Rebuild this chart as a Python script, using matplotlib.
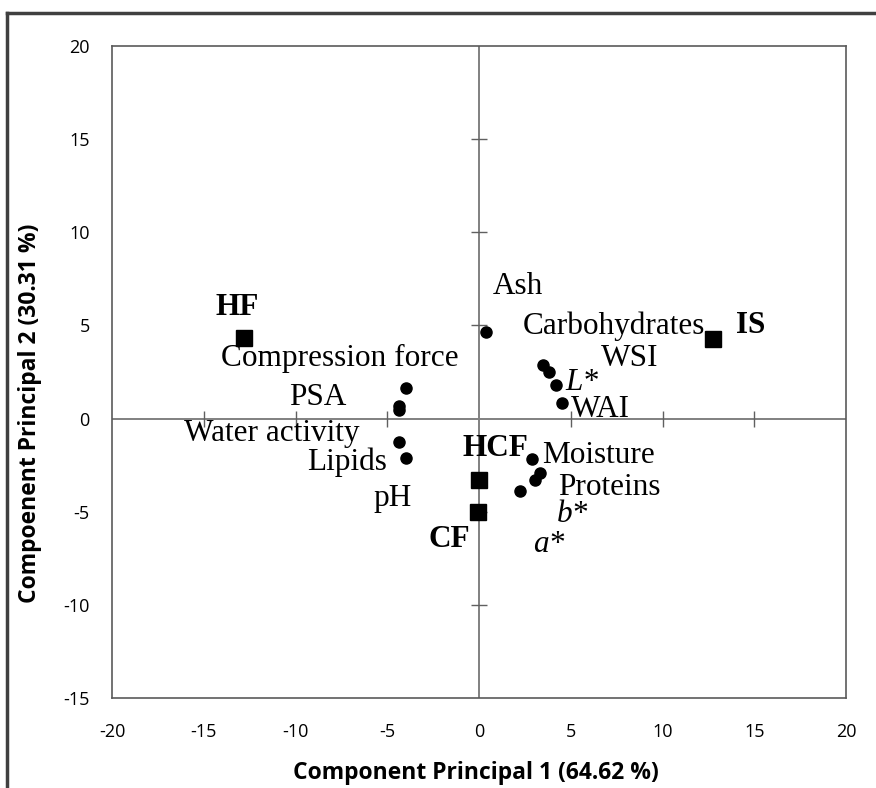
import matplotlib
matplotlib.use('Agg')
import matplotlib.pyplot as plt
from matplotlib.lines import Line2D

plt.rcParams['axes.unicode_minus'] = False

# samples (squares)
sample_names = ['HF', 'IS', 'HCF', 'CF']
sample_x = [-12.8, 12.75, 0.0, -0.05]
sample_y = [4.3, 4.25, -3.3, -5.0]

# variables (dots)
var_x = [0.4, 3.5, 3.8, 4.2, 4.5,
         -4.0, -4.35, -4.35, -4.35, -4.0,
         2.9, 3.3, 3.05, 2.25]
var_y = [4.65, 2.85, 2.5, 1.8, 0.85,
         1.65, 0.7, 0.45, -1.25, -2.1,
         -2.15, -2.9, -3.3, -3.9]

# labels placed like in the original
label_text = ['Ash', 'Carbohydrates', 'WSI', 'L*', 'WAI',
              'Compression force', 'PSA', 'Water activity', 'Lipids', 'pH',
              'Moisture', 'Proteins', 'b*', 'a*']
label_x = [2.1, 7.35, 8.2, 5.6, 6.6, -7.6, -8.8, -11.3, -7.2, -4.7,
           6.5, 7.1, 5.1, 3.8]
label_y = [7.1, 4.95, 3.2, 1.95, 0.5, 3.2, 1.15, -0.8, -2.35, -4.3,
           -2.0, -3.7, -5.15, -6.75]
sample_lx = [-13.2, 14.8, 0.9, -1.6]
sample_ly = [5.95, 5.0, -1.6, -6.5]

xticks = [-20, -15, -10, -5, 0, 5, 10, 15, 20]
yticks = [-15, -10, -5, 0, 5, 10, 15, 20]

fig = plt.figure(figsize=(8.76, 7.88), dpi=100)
ax = fig.add_axes([112 / 876, 90 / 788, 734 / 876, 652 / 788])

ax.set_xlim(-20, 20)
ax.set_ylim(-15, 20)
for s in ax.spines.values():
    s.set_color('#5a5a5a')
    s.set_linewidth(1.2)

ax.axhline(0, color='#808080', lw=1.4, zorder=1)
ax.axvline(0, color='#808080', lw=1.4, zorder=1)
# small cross ticks on the zero axes
inner_x = [t for t in xticks if t not in (-20, 0, 20)]
inner_y = [t for t in yticks if t not in (-15, 0, 20)]
ax.plot(inner_x, [0] * len(inner_x), ls='none', marker='|', ms=11, mew=1.0, color='#606060')
ax.plot([0] * len(inner_y), inner_y, ls='none', marker='_', ms=11, mew=1.0, color='#606060')

ax.plot(var_x, var_y, 'o', color='black', ms=8, zorder=3)
ax.plot(sample_x, sample_y, 's', color='black', ms=12, zorder=3)

for t, x, y in zip(label_text, label_x, label_y):
    ax.text(x, y, t, fontsize=22.5, family='Liberation Serif', ha='center', va='center',
            style='italic' if t.endswith('*') else 'normal')
for t, x, y in zip(sample_names, sample_lx, sample_ly):
    ax.text(x, y, t, fontsize=22.5, family='Liberation Serif', fontweight='bold',
            ha='center', va='center')

ax.set_xticks(xticks)
ax.set_yticks(yticks)
ax.tick_params(length=0, labelsize=13)
for lab in ax.get_xticklabels() + ax.get_yticklabels():
    lab.set_family('Open Sans')
ax.tick_params(axis='y', pad=16)
ax.tick_params(axis='x', pad=18)

ax.set_xlabel('Component Principal 1 (64.62 %)', fontsize=16.5, fontweight='bold',
              family='Open Sans')
ax.set_ylabel('Compoenent Principal 2 (30.31 %)', fontsize=16.5, fontweight='bold',
              family='Open Sans')
ax.xaxis.set_label_coords(0.496, -0.097)
ax.yaxis.set_label_coords(-0.096, 0.437)

# outer frame of the picture
fig.add_artist(Line2D([7 / 876, 7 / 876], [0, 1 - 12.5 / 788], transform=fig.transFigure,
                      color='#404040', lw=2.5))
fig.add_artist(Line2D([7 / 876, 1], [1 - 12.5 / 788, 1 - 12.5 / 788], transform=fig.transFigure,
                      color='#404040', lw=2.5))

plt.savefig('out.png', dpi=100)
